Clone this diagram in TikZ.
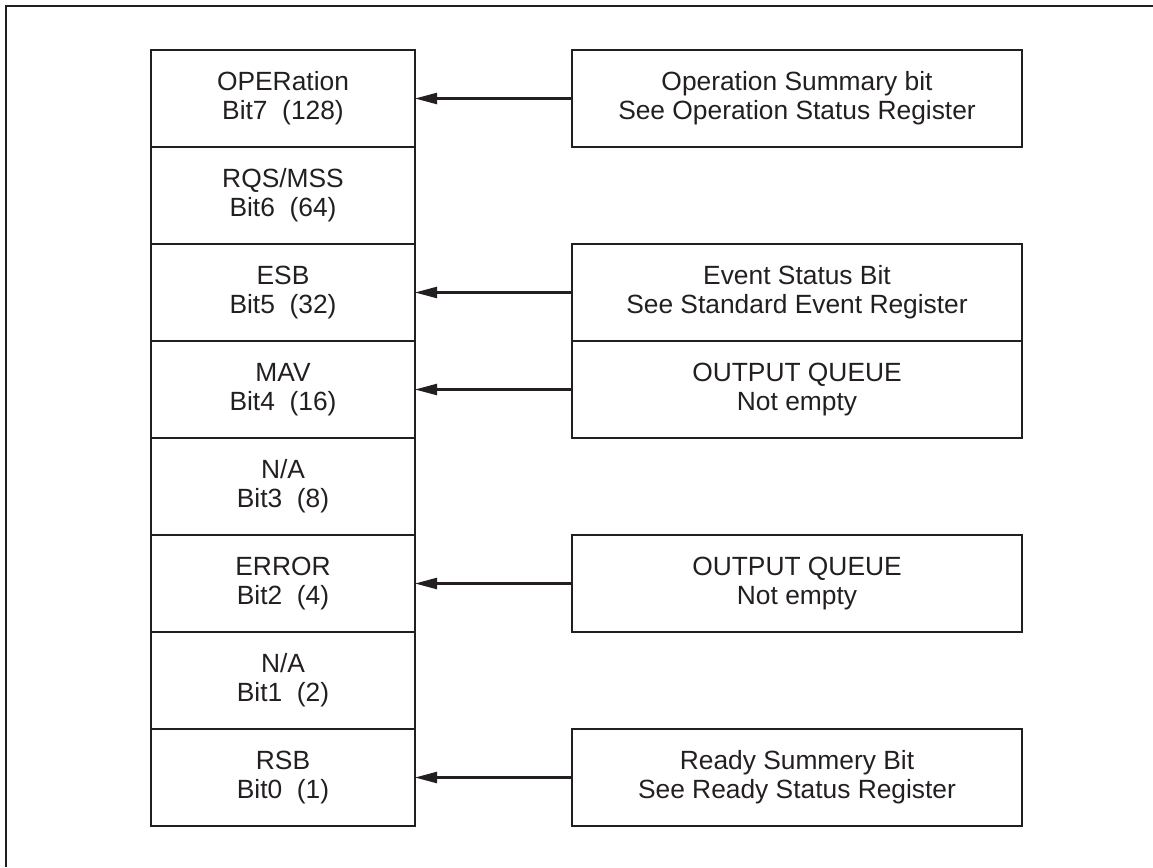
\documentclass[tikz,border=0pt]{standalone}
\usepackage{fontspec}
\setmainfont{Liberation Sans}
\usepackage{xcolor}
\usetikzlibrary{arrows.meta, positioning}
\definecolor{inkgray}{RGB}{35, 31, 32}

\begin{document}
\begin{tikzpicture}[
  every node/.style={font=\fontsize{15}{16.5}\selectfont, text=inkgray},
  bitrow/.style={
    draw=inkgray, line width=1.1pt, align=center,
    minimum width=5.28cm, minimum height=1.94cm,
    inner sep=0pt, outer sep=0pt
  },
  srcbox/.style={
    draw=inkgray, line width=1.1pt, align=center,
    minimum width=9.0cm, minimum height=1.94cm,
    inner sep=0pt, outer sep=0pt
  },
  arrow/.style={-{Triangle[length=4.4mm, width=2.2mm]}, line width=1.3pt, color=inkgray}
]

  % page size and outer frame
  \useasboundingbox (0,0) rectangle (23.06,-17.34);
  \draw[inkgray, line width=1.4pt] (23.06,-0.12) -- (0.12,-0.12) -- (0.12,-17.34);

  % status byte (column of bits)
  \node[bitrow] (bit7) at (5.66,-1.97) {OPERation\\Bit7 \ (128)};
  \node[bitrow, below=0pt of bit7] (bit6) {RQS/MSS\\Bit6 \ (64)};
  \node[bitrow, below=0pt of bit6] (bit5) {ESB\\Bit5 \ (32)};
  \node[bitrow, below=0pt of bit5] (bit4) {MAV\\Bit4 \ (16)};
  \node[bitrow, below=0pt of bit4] (bit3) {N/A\\Bit3 \ (8)};
  \node[bitrow, below=0pt of bit3] (bit2) {ERROR\\Bit2 \ (4)};
  \node[bitrow, below=0pt of bit2] (bit1) {N/A\\Bit1 \ (2)};
  \node[bitrow, below=0pt of bit1] (bit0) {RSB\\Bit0 \ (1)};

  % sources
  \node[srcbox, right=3.14cm of bit7] (opsum) {Operation Summary bit\\See Operation Status Register};
  \node[srcbox, right=3.14cm of bit5] (evsum) {Event Status Bit\\See Standard Event Register};
  \node[srcbox, right=3.14cm of bit4] (queue) {OUTPUT QUEUE\\Not empty};
  \node[srcbox, right=3.14cm of bit2] (errq) {OUTPUT QUEUE\\Not empty};
  \node[srcbox, right=3.14cm of bit0] (rdsum) {Ready Summery Bit\\See Ready Status Register};

  % arrows
  \draw[arrow] (opsum.west) -- (bit7.east);
  \draw[arrow] (evsum.west) -- (bit5.east);
  \draw[arrow] (queue.west) -- (bit4.east);
  \draw[arrow] (errq.west) -- (bit2.east);
  \draw[arrow] (rdsum.west) -- (bit0.east);

\end{tikzpicture}
\end{document}
